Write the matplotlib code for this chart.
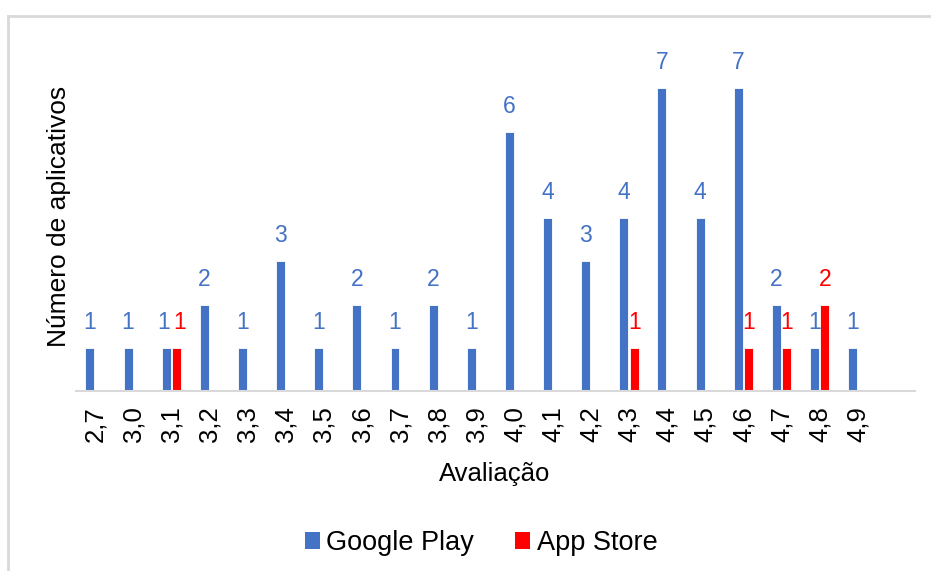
import matplotlib
matplotlib.use("Agg")
import matplotlib.pyplot as plt
from matplotlib.lines import Line2D
from matplotlib.patches import Patch
import numpy as np

plt.rcParams['font.family'] = ['Liberation Sans', 'DejaVu Sans']

categories = ["2,7", "3,0", "3,1", "3,2", "3,3", "3,4", "3,5", "3,6", "3,7", "3,8", "3,9",
              "4,0", "4,1", "4,2", "4,3", "4,4", "4,5", "4,6", "4,7", "4,8", "4,9"]
google_play = [1, 1, 1, 2, 1, 3, 1, 2, 1, 2, 1, 6, 4, 3, 4, 7, 4, 7, 2, 1, 1]
app_store = [0, 0, 1, 0, 0, 0, 0, 0, 0, 0, 0, 0, 0, 0, 1, 0, 0, 1, 1, 2, 0]
series_names = ["Google Play", "App Store"]

BLUE = "#4472C4"
RED = "#FF0000"
FS = 18.5
FS_LBL = 16.5

W, H = 931, 571
fig = plt.figure(figsize=(W / 100, H / 100), dpi=100)
ax = fig.add_axes([76 / W, (H - 391) / H, (915 - 76) / W, 346 / H])

x = np.arange(len(categories))
bw = 0.235
off = 0.135
ax.bar(x - off, google_play, width=bw, color=BLUE, edgecolor="white", linewidth=0.6)
ax.bar(x + off, app_store, width=bw, color=RED, edgecolor="white", linewidth=0.6)

for xi, g, a in zip(x, google_play, app_store):
    both = (g == a) and g and a
    if g:
        ax.annotate(str(g), (xi - off, g), xytext=(-2 if both else 0, 10),
                    textcoords="offset points", ha="center", va="bottom",
                    color=BLUE, fontsize=FS_LBL)
    if a:
        ax.annotate(str(a), (xi + off, a), xytext=(2 if both else 0, 10),
                    textcoords="offset points", ha="center", va="bottom",
                    color=RED, fontsize=FS_LBL)

ax.set_xlim(-0.5, len(categories) + 0.5)
ax.set_ylim(0, 8)
ax.set_xticks(x)
ax.set_xticklabels(categories, rotation=90, fontsize=FS)
ax.tick_params(axis="x", length=0, pad=11)
ax.set_yticks([])
for s in ["top", "right", "left"]:
    ax.spines[s].set_visible(False)
ax.spines["bottom"].set_color("#D9D9D9")
ax.spines["bottom"].set_linewidth(1.5)

fig.text(59 / W, 1 - 216 / H, "Número de aplicativos", rotation=90, ha="center", va="center",
         fontsize=FS + 0.5)
fig.text(495 / W, 1 - 474 / H, "Avaliação", ha="center", va="center", fontsize=FS)

handles = [Patch(facecolor=BLUE), Patch(facecolor=RED)]
fig.legend(handles, series_names, loc="center", bbox_to_anchor=(481 / W, 1 - 543 / H), ncol=2,
           frameon=False, fontsize=19.5, handlelength=0.55, handleheight=0.55,
           handletextpad=0.25, columnspacing=1.5)

# chart border (light grey)
fig.add_artist(Line2D([7.5 / W, 1], [1 - 15.5 / H, 1 - 15.5 / H], transform=fig.transFigure,
                      color="#D9D9D9", linewidth=2))
fig.add_artist(Line2D([7.5 / W, 7.5 / W], [0, 1 - 15.5 / H], transform=fig.transFigure,
                      color="#D9D9D9", linewidth=2))

fig.savefig("out.png", dpi=100)
